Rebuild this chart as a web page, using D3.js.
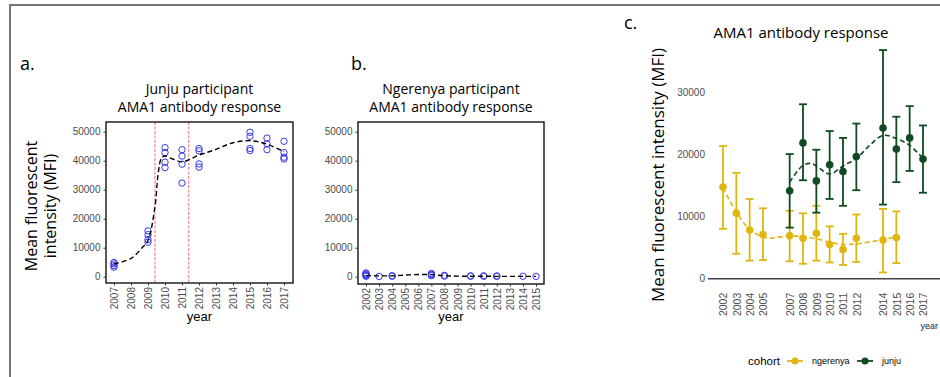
<!DOCTYPE html>
<html>
<head>
<meta charset="utf-8">
<script src="https://cdn.jsdelivr.net/npm/d3@7"></script>
<style>
    body { margin: 0; background: white; }
    svg { display: block; }
    .tick-label { font-family: "Liberation Sans", Arial, sans-serif; font-size: 10px; fill: #4d4d4d; }
    .title { font-family: "Open Sans", sans-serif; font-size: 14px; fill: black; }
</style>
</head>
<body>
<svg width="940" height="377"></svg>
<script>
// Panel a - Junju participant
var junjuYears = [2007, 2009, 2010, 2011, 2012, 2015, 2016, 2017];
var junjuValues = [
    [4900, 4400, 3800, 3300],
    [15800, 14500, 12800, 11900],
    [44500, 42800, 39500, 37600],
    [43800, 41600, 38800, 32300],
    [44200, 43400, 38900, 37800],
    [49800, 48400, 44200, 43500],
    [47800, 45800, 43800],
    [46700, 42800, 41200, 40600]
];
var junjuSmoothYears = [2007, 2008, 2008.7, 2009, 2009.41, 2009.6, 2009.8, 2010, 2010.5, 2011, 2012, 2013, 2014, 2015, 2016, 2017];
var junjuSmoothValues = [4400, 6300, 10300, 12500, 24100, 35600, 41000, 41600, 40500, 39600, 41900, 43900, 46200, 46900, 45700, 43100];
var junjuCutYears = [2009.41, 2011.4];
var junjuTickYears = [2007, 2008, 2009, 2010, 2011, 2012, 2013, 2014, 2015, 2016, 2017];

// Panel b - Ngerenya participant
var ngerenyaYears = [2002, 2003, 2004, 2007, 2008, 2010, 2011, 2012, 2014, 2015];
var ngerenyaValues = [
    [1300, 1000, 700, 400, 150],
    [100],
    [350, 150],
    [1100, 850, 600, 350],
    [450, 200],
    [300, 150],
    [300, 150],
    [250, 120],
    [150],
    [100]
];
var ngerenyaSmoothYears = [2002, 2003, 2004, 2005, 2006, 2007, 2008, 2009, 2010, 2011, 2012, 2013, 2014, 2015];
var ngerenyaSmoothValues = [450, 300, 300, 550, 750, 700, 350, 200, 150, 150, 120, 120, 120, 120];
var ngerenyaTickYears = [2002, 2003, 2004, 2005, 2006, 2007, 2008, 2009, 2010, 2011, 2012, 2013, 2014, 2015];

var abTicks = [0, 10000, 20000, 30000, 40000, 50000];

// Panel c - cohort means with error bars
var cohortNames = ["ngerenya", "junju"];
var cohortColors = ["#dfb60f", "#0f4a22"];
var ngMeanYears = [2002, 2003, 2004, 2005, 2007, 2008, 2009, 2010, 2011, 2012, 2014, 2015];
var ngMean = [14700, 10500, 7800, 7100, 6900, 6500, 7300, 5500, 4700, 6500, 6200, 6600];
var ngLow = [8000, 4000, 2900, 3000, 2800, 2400, 2900, 2600, 2200, 2700, 1000, 2500];
var ngHigh = [21300, 17000, 12800, 11300, 10900, 10500, 11700, 8400, 7200, 10300, 11200, 10800];
var ngSmoothYears = [2002, 2003, 2004, 2005, 2005.5, 2006, 2007, 2008, 2009, 2010, 2011, 2012, 2013, 2014, 2015];
var ngSmoothValues = [14600, 10700, 7900, 6700, 6500, 6600, 6900, 6700, 6400, 5900, 5500, 5600, 5900, 6300, 6700];

var juMeanYears = [2007, 2008, 2009, 2010, 2011, 2012, 2014, 2015, 2016, 2017];
var juMean = [14100, 21800, 15700, 18300, 17200, 19600, 24200, 20800, 22600, 19200];
var juLow = [8200, 15800, 10600, 12800, 11700, 14200, 11900, 15500, 17300, 13800];
var juHigh = [20000, 28000, 20700, 23700, 22600, 24900, 36700, 26000, 27700, 24600];
var juSmoothYears = [2007, 2008, 2008.6, 2009, 2010, 2011, 2012, 2013, 2014, 2015, 2016, 2017];
var juSmoothValues = [15500, 18200, 18500, 18100, 16800, 18100, 19300, 21400, 23000, 22500, 21400, 19300];

var cTicks = [0, 10000, 20000, 30000];
var cTickYears = [2002, 2003, 2004, 2005, 2007, 2008, 2009, 2010, 2011, 2012, 2014, 2015, 2016, 2017];

var svg = d3.select("svg");

svg.append("rect")
    .attr("width", 940)
    .attr("height", 377)
    .attr("fill", "white");

// Grey frame (top and left)
svg.append("path")
    .attr("d", "M10,377V5H940")
    .attr("fill", "none")
    .attr("stroke", "#767676")
    .attr("stroke-width", 2);

// Shared y scale of panels a and b
var yScaleAB = d3.scaleLinear().domain([0, 50000]).range([276.7, 131.7]);

function drawParticipantPanel(opts) {
    var g = svg.append("g");
    var xScale = d3.scaleLinear().domain(opts.xDomain).range(opts.xRange);
    var box = opts.box;

    // Panel letter
    g.append("text")
        .attr("x", opts.letterX)
        .attr("y", 70)
        .style("font-family", "Open Sans, sans-serif")
        .style("font-size", "18px")
        .text(opts.letter);

    // Title
    g.selectAll("text.title")
        .data(opts.title)
        .enter()
        .append("text")
        .attr("class", "title")
        .attr("x", (box.x0 + box.x1) / 2)
        .attr("y", (d, i) => 94 + i * 18)
        .attr("text-anchor", "middle")
        .text(d => d);

    // Cut-off lines
    g.selectAll("line.cut")
        .data(opts.cuts)
        .enter()
        .append("line")
        .attr("x1", d => xScale(d))
        .attr("x2", d => xScale(d))
        .attr("y1", box.y0)
        .attr("y2", box.y1)
        .attr("stroke", "#e8454f")
        .attr("stroke-width", 0.8)
        .attr("stroke-dasharray", "3,1.5");

    // Individual points
    var points = [];
    opts.years.forEach((y, i) => opts.values[i].forEach(v => points.push({ year: y, value: v })));

    g.selectAll("circle.pt")
        .data(points)
        .enter()
        .append("circle")
        .attr("cx", d => xScale(d.year))
        .attr("cy", d => yScaleAB(d.value))
        .attr("r", 3.2)
        .attr("fill", "none")
        .attr("stroke", "#3838f2")
        .attr("stroke-width", 1);

    // Smoothed trend
    var line = d3.line()
        .x((d, i) => xScale(opts.smoothYears[i]))
        .y(d => yScaleAB(d))
        .curve(d3.curveCatmullRom.alpha(0.5));

    g.append("path")
        .attr("d", line(opts.smoothValues))
        .attr("fill", "none")
        .attr("stroke", "black")
        .attr("stroke-width", 1.4)
        .attr("stroke-dasharray", "5,3");

    // Box
    g.append("rect")
        .attr("x", box.x0)
        .attr("y", box.y0)
        .attr("width", box.x1 - box.x0)
        .attr("height", box.y1 - box.y0)
        .attr("fill", "none")
        .attr("stroke", "black")
        .attr("stroke-width", 1.3);

    // Y axis
    var yAxis = g.append("g")
        .attr("transform", "translate(" + box.x0 + ",0)")
        .call(d3.axisLeft(yScaleAB).tickValues(abTicks).tickSize(2.5).tickPadding(3).tickFormat(d3.format("d")));
    yAxis.select(".domain").remove();
    yAxis.selectAll("line").attr("stroke", "#333");
    yAxis.selectAll("text").attr("class", "tick-label").attr("fill", null);

    // X axis
    var xAxis = g.append("g")
        .attr("transform", "translate(0," + box.y1 + ")")
        .call(d3.axisBottom(xScale).tickValues(opts.tickYears).tickSize(2.5).tickFormat(d3.format("d")));
    xAxis.select(".domain").remove();
    xAxis.selectAll("line").attr("stroke", "#333");
    xAxis.selectAll("text")
        .attr("class", "tick-label")
        .attr("fill", null)
        .attr("transform", "rotate(-90)")
        .attr("x", -4)
        .attr("y", 0)
        .attr("dy", "0.35em")
        .attr("text-anchor", "end");

    // X title
    g.append("text")
        .attr("x", (box.x0 + box.x1) / 2)
        .attr("y", 321)
        .attr("text-anchor", "middle")
        .style("font-family", "Liberation Sans, Arial, sans-serif")
        .style("font-size", "13px")
        .text("year");

    return g;
}

var panelA = drawParticipantPanel({
    letter: "a.",
    letterX: 20,
    title: ["Junju participant", "AMA1 antibody response"],
    box: { x0: 106, x1: 293, y0: 122, y1: 283 },
    xDomain: [2007, 2017],
    xRange: [114, 284],
    cuts: junjuCutYears,
    years: junjuYears,
    values: junjuValues,
    smoothYears: junjuSmoothYears,
    smoothValues: junjuSmoothValues,
    tickYears: junjuTickYears
});

// Y title for panel a (two lines)
panelA.selectAll("text.ytitle")
    .data(["Mean fluorescent", "intensity (MFI)"])
    .enter()
    .append("text")
    .attr("transform", (d, i) => "translate(" + (37 + i * 18.5) + ",206) rotate(-90)")
    .attr("text-anchor", "middle")
    .style("font-family", "Open Sans, sans-serif")
    .style("font-size", "16px")
    .text(d => d);

drawParticipantPanel({
    letter: "b.",
    letterX: 351,
    title: ["Ngerenya participant", "AMA1 antibody response"],
    box: { x0: 358, x1: 544, y0: 122, y1: 284 },
    xDomain: [2002, 2015],
    xRange: [366, 536],
    cuts: [],
    years: ngerenyaYears,
    values: ngerenyaValues,
    smoothYears: ngerenyaSmoothYears,
    smoothValues: ngerenyaSmoothValues,
    tickYears: ngerenyaTickYears
});

// Panel c
var xScaleC = d3.scaleLinear().domain([2002, 2017]).range([723, 923]);
var yScaleC = d3.scaleLinear().domain([0, 30000]).range([278.7, 91.8]);
var panelC = svg.append("g");

panelC.append("text")
    .attr("x", 624)
    .attr("y", 29)
    .style("font-family", "Open Sans, sans-serif")
    .style("font-size", "18px")
    .text("c.");

panelC.append("text")
    .attr("x", 801)
    .attr("y", 38)
    .attr("text-anchor", "middle")
    .style("font-family", "Open Sans, sans-serif")
    .style("font-size", "15px")
    .text("AMA1 antibody response");

panelC.append("text")
    .attr("transform", "translate(664,175) rotate(-90)")
    .attr("text-anchor", "middle")
    .style("font-family", "Open Sans, sans-serif")
    .style("font-size", "17px")
    .text("Mean fluorescent intensity (MFI)");

var yAxisC = panelC.append("g")
    .attr("transform", "translate(708,0)")
    .call(d3.axisLeft(yScaleC).tickValues(cTicks).tickSize(0).tickPadding(3).tickFormat(d3.format("d")));
yAxisC.select(".domain").remove();
yAxisC.selectAll("text").attr("class", "tick-label").attr("fill", null);

// x axis line at zero
panelC.append("line")
    .attr("x1", 708)
    .attr("x2", 940)
    .attr("y1", yScaleC(0))
    .attr("y2", yScaleC(0))
    .attr("stroke", "#444")
    .attr("stroke-width", 1.6);

var xAxisC = panelC.append("g")
    .attr("transform", "translate(0," + yScaleC(0) + ")")
    .call(d3.axisBottom(xScaleC).tickValues(cTickYears).tickSize(0).tickFormat(d3.format("d")));
xAxisC.select(".domain").remove();
xAxisC.selectAll("text")
    .attr("class", "tick-label")
    .attr("fill", null)
    .style("font-size", "10.5px")
    .attr("transform", "rotate(-90)")
    .attr("x", -14)
    .attr("y", 0)
    .attr("dy", "0.35em")
    .attr("text-anchor", "end");

panelC.append("text")
    .attr("x", 938)
    .attr("y", 329)
    .attr("text-anchor", "end")
    .attr("class", "tick-label")
    .style("font-size", "9px")
    .style("fill", "#222")
    .text("year");

var cohorts = [
    { years: ngMeanYears, mean: ngMean, low: ngLow, high: ngHigh, sYears: ngSmoothYears, sValues: ngSmoothValues, color: cohortColors[0] },
    { years: juMeanYears, mean: juMean, low: juLow, high: juHigh, sYears: juSmoothYears, sValues: juSmoothValues, color: cohortColors[1] }
];

cohorts.forEach(c => {
    var g = panelC.append("g");
    var rows = c.years.map((y, i) => ({ year: y, mean: c.mean[i], low: c.low[i], high: c.high[i] }));

    // Error bars
    g.selectAll("line.bar")
        .data(rows)
        .enter()
        .append("line")
        .attr("x1", d => xScaleC(d.year))
        .attr("x2", d => xScaleC(d.year))
        .attr("y1", d => yScaleC(d.low))
        .attr("y2", d => yScaleC(d.high))
        .attr("stroke", c.color)
        .attr("stroke-width", 1.8);

    ["low", "high"].forEach(k => {
        g.selectAll("line.cap-" + k)
            .data(rows)
            .enter()
            .append("line")
            .attr("x1", d => xScaleC(d.year) - 4)
            .attr("x2", d => xScaleC(d.year) + 4)
            .attr("y1", d => yScaleC(d[k]))
            .attr("y2", d => yScaleC(d[k]))
            .attr("stroke", c.color)
            .attr("stroke-width", 1.8);
    });

    // Smoothed trend
    var line = d3.line()
        .x((d, i) => xScaleC(c.sYears[i]))
        .y(d => yScaleC(d))
        .curve(d3.curveCatmullRom.alpha(0.5));

    g.append("path")
        .attr("d", line(c.sValues))
        .attr("fill", "none")
        .attr("stroke", c.color)
        .attr("stroke-width", 1.6)
        .attr("stroke-dasharray", "5,3");

    // Means
    g.selectAll("circle")
        .data(rows)
        .enter()
        .append("circle")
        .attr("cx", d => xScaleC(d.year))
        .attr("cy", d => yScaleC(d.mean))
        .attr("r", 3.8)
        .attr("fill", c.color);
});

// Legend
var legend = panelC.append("g").attr("transform", "translate(0,361)");

legend.append("text")
    .attr("x", 748)
    .attr("y", 4)
    .style("font-family", "Liberation Sans, Arial, sans-serif")
    .style("font-size", "11.5px")
    .text("cohort");

var legendX = [787, 857];
cohortNames.forEach((name, i) => {
    legend.append("line")
        .attr("x1", legendX[i])
        .attr("x2", legendX[i] + 16)
        .attr("stroke", cohortColors[i])
        .attr("stroke-width", 1.8);
    legend.append("circle")
        .attr("cx", legendX[i] + 8)
        .attr("r", 3.5)
        .attr("fill", cohortColors[i]);
    legend.append("text")
        .attr("x", legendX[i] + 25)
        .attr("y", 3)
        .style("font-family", "Liberation Sans, Arial, sans-serif")
        .style("font-size", "9px")
        .text(name);
});
</script>
</body>
</html>
